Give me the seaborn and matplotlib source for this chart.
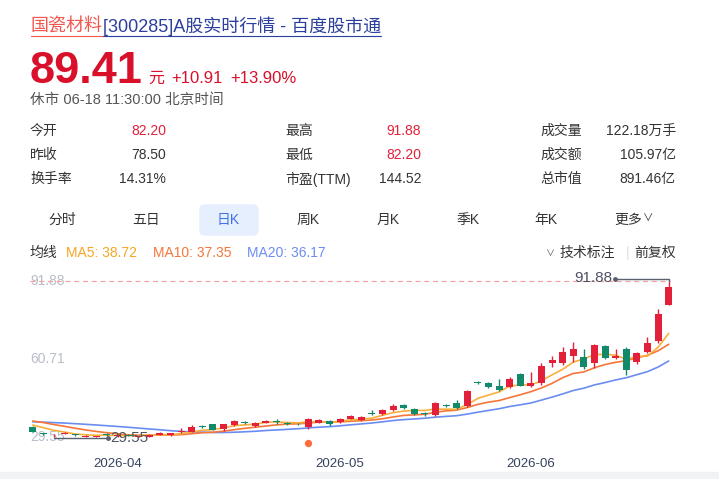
import numpy as np
import pandas as pd
import seaborn as sns
import matplotlib.pyplot as plt
from matplotlib.patches import FancyBboxPatch, Rectangle
from matplotlib.lines import Line2D
import matplotlib.transforms as mtransforms

# --- daily K data (61 trading days) ---
opens = [33.84, 31.1, 30.0, 31.1, 30.8, 29.8, 29.75, 30.7, 30.2, 30.6,
         29.9, 29.65, 30.55, 30.4, 31.7, 31.85, 34.0, 34.8, 32.8, 34.5,
         35.7, 34.1, 35.4, 36.2, 35.3, 35.0, 33.6, 35.4, 36.2, 35.7,
         37.0, 36.5, 39.0, 38.9, 40.5, 42.5, 40.8, 39.0, 38.5, 42.3,
         43.3, 42.1, 51.5, 51.3, 50.0, 49.6, 54.7, 50.0, 51.3, 59.3,
         59.3, 61.9, 61.6, 59.3, 65.9, 61.0, 64.7, 59.7, 63.6, 67.9,
         82.20]
closes = [31.85, 30.9, 30.3, 31.3, 30.4, 30.1, 30.05, 30.5, 30.5, 30.3,
          30.2, 30.55, 31.45, 31.2, 31.9, 33.85, 33.8, 32.6, 34.8, 36.1,
          35.5, 35.2, 36.2, 35.6, 35.1, 34.8, 36.8, 36.5, 34.9, 36.8,
          38.1, 37.6, 38.8, 40.5, 42.2, 41.1, 38.9, 38.8, 43.1, 42.1,
          41.1, 48.0, 51.3, 49.5, 48.4, 52.8, 50.2, 51.1, 57.9, 60.3,
          63.6, 64.7, 57.4, 66.3, 61.0, 61.9, 56.4, 63.0, 67.2, 78.5,
          89.41]
highs = [34.1, 31.5, 30.9, 31.9, 31.0, 30.4, 30.3, 31.2, 30.8, 30.9,
         30.5, 30.9, 31.8, 31.5, 33.3, 34.5, 34.6, 35.0, 35.1, 36.5,
         36.3, 35.7, 36.6, 36.9, 35.8, 35.5, 37.2, 36.9, 36.5, 37.2,
         38.6, 38.0, 40.4, 40.9, 42.8, 42.8, 41.1, 39.8, 43.5, 42.9,
         44.4, 48.5, 52.1, 51.6, 52.7, 53.6, 55.0, 55.7, 59.3, 61.9,
         65.6, 67.6, 64.7, 66.7, 66.3, 64.6, 65.6, 63.6, 69.6, 80.5,
         91.88]
lows = [31.6, 30.6, 29.55, 30.8, 30.2, 29.65, 29.6, 30.1, 29.9, 30.0,
        29.7, 29.6, 30.4, 30.2, 31.5, 31.6, 33.4, 32.4, 32.3, 34.3,
        35.1, 33.9, 35.2, 34.8, 34.7, 34.4, 32.8, 35.2, 34.2, 35.5,
        36.8, 36.2, 38.6, 38.6, 40.2, 40.8, 38.6, 38.2, 38.2, 41.7,
        40.8, 41.8, 50.9, 49.2, 48.1, 49.3, 49.9, 49.7, 50.4, 57.4,
        58.3, 59.7, 56.8, 57.0, 60.6, 60.6, 54.4, 58.6, 63.0, 67.0,
        82.20]
# closes before the visible window, estimated from where the MA lines start
prior_closes = [33.8, 34.2, 34.9, 35.3, 35.0, 35.6, 36.1, 36.4, 36.6, 37.1,
                37.2, 38.0, 38.4, 37.9, 37.0, 36.0, 35.6, 34.8, 34.2]

month_ticks = [8, 29, 47]
month_labels = ["2026-04", "2026-05", "2026-06"]
event_days = [26]

info_rows = [
    [("今开", "82.20", True), ("最高", "91.88", True), ("成交量", "122.18万手", False)],
    [("昨收", "78.50", False), ("最低", "82.20", True), ("成交额", "105.97亿", False)],
    [("换手率", "14.31%", False), ("市盈(TTM)", "144.52", False), ("总市值", "891.46亿", False)],
]
tabs = ["分时", "五日", "日K", "周K", "月K", "季K", "年K", "更多"]
ma_legend = [("MA5: 38.72", "#f5a623"), ("MA10: 37.35", "#f5763a"), ("MA20: 36.17", "#6b8df2")]

RED = "#e3203a"
GREEN = "#12896b"
W, H = 719, 479


def fx(x):
    return x / W


def fy(y):
    return 1 - y / H


sns.set_theme(style="white")
plt.rcParams['font.family'] = ['Liberation Sans', 'Noto Sans CJK SC', 'DejaVu Sans']

fig = plt.figure(figsize=(7.19, 4.79), dpi=100)
fig.patch.set_facecolor("white")
renderer = fig.canvas.get_renderer()

# --- header ---
x = 31
for txt, col in [("国瓷材料", "#f0584f"), ("[300285]A股实时行情 - 百度股市通", "#2b3f9e")]:
    t = fig.text(fx(x), fy(26), txt, color=col, fontsize=13, va="center")
    x1 = t.get_window_extent(renderer).x1
    fig.add_artist(Line2D([fx(x), fx(x1)], [fy(36), fy(36)], color=col, lw=0.8,
                          transform=fig.transFigure))
    x = x1

fig.text(fx(30), fy(83), "89.41", color="#d8102a", fontsize=32.5, fontweight="bold", va="baseline")
fig.text(fx(148), fy(83), "元", color="#d8102a", fontsize=11.5, va="baseline")
fig.text(fx(171), fy(83), "+10.91", color="#d8102a", fontsize=12, va="baseline")
fig.text(fx(230), fy(83), "+13.90%", color="#d8102a", fontsize=12, va="baseline")
fig.text(fx(30), fy(100), "休市 06-18 11:30:00 北京时间", color="#555555", fontsize=10.5, va="center")

# --- quote grid ---
label_x = [30, 285, 540]
value_x = [166, 421, 676]
for r, row in enumerate(info_rows):
    y = 131 + r * 24
    for c, (lab, val, hot) in enumerate(row):
        fig.text(fx(label_x[c]), fy(y), lab, color="#333333", fontsize=10, va="center")
        fig.text(fx(value_x[c]), fy(y), val, color=RED if hot else "#333333",
                 fontsize=10, va="center", ha="right")

# --- period tabs ---
tab_x = [62, 146, 228, 308, 388, 468, 546, 628]
fig.patches.append(FancyBboxPatch((fx(200), fy(235)), fx(58), 30 / H,
                                  boxstyle="round,pad=0,rounding_size=0.008",
                                  transform=fig.transFigure, color="#e6effd", zorder=0))
for tx, name in zip(tab_x, tabs):
    fig.text(fx(tx), fy(220), name, color="#4170e8" if name == "日K" else "#333333",
             fontsize=10, va="center", ha="center")
fig.text(fx(643), fy(219), "∨", color="#333333", fontsize=7.5, va="center")

# --- MA legend row ---
fig.text(fx(30), fy(253), "均线", color="#333333", fontsize=10, va="center")
for lx, (txt, col) in zip([66, 153, 247], ma_legend):
    fig.text(fx(lx), fy(253), txt, color=col, fontsize=10, va="center")
fig.text(fx(546), fy(254), "∨", color="#555555", fontsize=6.5, va="center")
fig.text(fx(560), fy(253), "技术标注", color="#333333", fontsize=10, va="center")
fig.text(fx(626), fy(253), "|", color="#dddddd", fontsize=10, va="center")
fig.text(fx(634), fy(253), "前复权", color="#333333", fontsize=10, va="center")

# --- candlestick chart ---
ax = fig.add_axes([fx(25), fy(450), 655 / W, 180 / H])
days = np.arange(len(closes))
o = np.array(opens)
c = np.array(closes)
hi = np.array(highs)
lo = np.array(lows)
colors = [RED if cc >= oo else GREEN for oo, cc in zip(o, c)]

all_closes = pd.Series(prior_closes + closes)
n0 = len(prior_closes)
ma = pd.DataFrame({
    "day": days,
    "MA5": all_closes.rolling(5).mean().iloc[n0:].values,
    "MA10": all_closes.rolling(10).mean().iloc[n0:].values,
    "MA20": all_closes.rolling(20).mean().iloc[n0:].values,
})
for name, col in [("MA20", "#6b8df2"), ("MA10", "#f5763a"), ("MA5", "#f9b03a")]:
    sns.lineplot(data=ma, x="day", y=name, ax=ax, color=col, linewidth=1.2, zorder=2)

ax.vlines(days, lo, hi, colors=colors, linewidth=1.0, zorder=3)
body = np.maximum(np.abs(c - o), 0.3)
ax.bar(days, body, bottom=np.minimum(o, c), width=0.66, color=colors, linewidth=0, zorder=4)

top, bottom = hi.max(), lo.min()
mid = (top + bottom) / 2
ax.set_ylim(24.58, 96.1)
ax.set_xlim(-0.73, 61.07)

# price axis labels inside the plot
for v in [top, mid, bottom]:
    ax.text(0.008, v, f"{v:.2f}", color="#b9bdc7", fontsize=10, va="center",
            transform=mtransforms.blended_transform_factory(ax.transAxes, ax.transData), zorder=1)
ax.axhline(top, xmin=0.008, xmax=0.985, color="#f4a3a3", linestyle=(0, (4, 3)), linewidth=0.9, zorder=1)

# max / min markers
imax, imin = int(hi.argmax()), int(lo.argmin())
ax.plot([imax - 5.1, imax, imax], [top + 0.5, top + 0.5, top], color="#5a606e", lw=1.0, zorder=5)
ax.plot([imax - 5.1], [top + 0.5], "o", color="#5a606e", ms=2.5, zorder=5)
ax.text(imax - 5.3, top + 0.9, f"{top:.2f}", color="#4b5263", fontsize=11, ha="right", va="center")
ax.plot([imin, imin + 5.1], [bottom - 0.3, bottom - 0.3], color="#5a606e", lw=1.0, zorder=5)
ax.plot([imin + 5.1], [bottom - 0.3], "o", color="#5a606e", ms=2.5, zorder=5)
ax.text(imin + 5.3, bottom - 0.1, f"{bottom:.2f}", color="#4b5263", fontsize=11, ha="left", va="center", zorder=5)

# event marker under the candles
ax.scatter(event_days, [0.039] * len(event_days), s=18, color="#ff6b3d", zorder=5,
           transform=mtransforms.blended_transform_factory(ax.transData, ax.transAxes))

ax.set_xticks(month_ticks)
ax.set_xticklabels(month_labels)
ax.set_yticks([])
ax.tick_params(axis="x", length=0, pad=6, labelsize=9.5, labelcolor="#36435e")
ax.set_xlabel("")
ax.set_ylabel("")
for s in ax.spines.values():
    s.set_visible(False)

# gray strip at the very bottom
fig.patches.append(Rectangle((0, 0), 1, 7 / H, transform=fig.transFigure, color="#f1f2f4", zorder=0))

fig.savefig("out.png", dpi=100)
